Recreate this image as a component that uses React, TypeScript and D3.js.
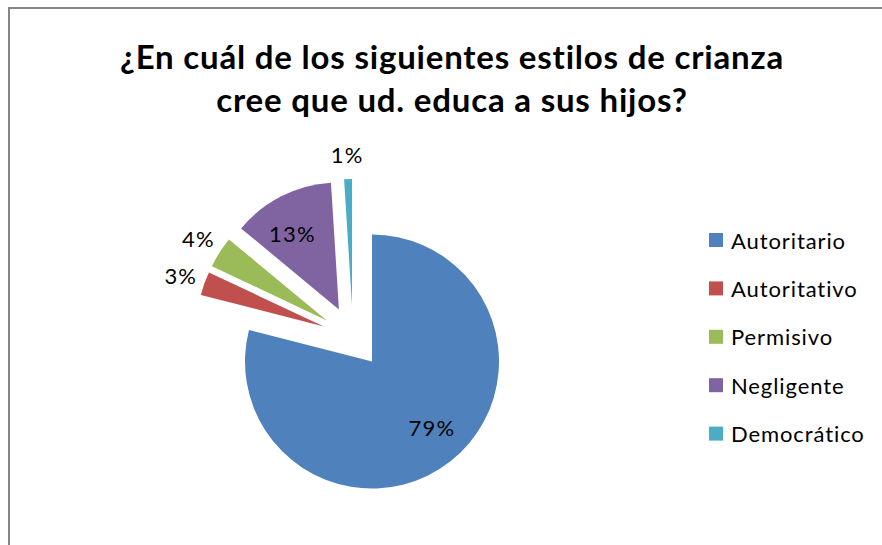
import React from "react";
import * as d3 from "d3";

const title = ["¿En cuál de los siguientes estilos de crianza", "cree que ud. educa a sus hijos?"];
const categories = ["Autoritario", "Autoritativo", "Permisivo", "Negligente", "Democrático"];
const values = [79, 3, 4, 13, 1];
const colors = ["#4F81BD", "#C0504D", "#9BBB59", "#8064A2", "#4BACC6"];
const labelInside = [true, false, false, true, false];

const W = 882;
const H = 545;
const FONT = "Lato, 'Liberation Sans', sans-serif";

export default function App() {
  const cx = 353;
  const cy = 337;
  const r = 127;
  const explode = 31;

  const pie = d3.pie<number>().sort(null).value((d) => d);
  const arcs = pie(values);
  const arcGen = d3.arc<d3.PieArcDatum<number>>().innerRadius(0).outerRadius(r);
  const total = d3.sum(values);

  return (
    <svg
      width={W}
      height={H}
      style={{ position: "absolute", left: 0, top: 0, display: "block", background: "#fff" }}
    >
      <rect x={9} y={8} width={1000} height={1000} fill="#fff" stroke="#868686" strokeWidth={2} />
      {title.map((t, i) => (
        <text
          key={i}
          x={452}
          y={69 + i * 43}
          textAnchor="middle"
          fontFamily={FONT}
          fontWeight="bold"
          fontSize={33}
          letterSpacing={0.8}
          fill="#000"
        >
          {t}
        </text>
      ))}
      {arcs.map((a, i) => {
        const mid = (a.startAngle + a.endAngle) / 2;
        const ox = cx + explode * Math.sin(mid);
        const oy = cy - explode * Math.cos(mid);
        // inside labels sit a little toward the slice start, as Excel's best fit does
        const la = labelInside[i] ? mid - 0.08 : mid;
        const lr = labelInside[i] ? r * 0.7 : r + 25;
        const lx = ox + lr * Math.sin(la);
        const ly = oy - lr * Math.cos(la);
        const pct = Math.round((values[i] / total) * 100) + "%";
        return (
          <g key={i}>
            <path d={arcGen(a) || ""} transform={`translate(${ox},${oy})`} fill={colors[i]} />
            <text
              x={lx}
              y={ly}
              textAnchor="middle"
              dominantBaseline="central"
              fontFamily={FONT}
              fontSize={22}
              letterSpacing={1.2}
              fill="#000"
            >
              {pct}
            </text>
          </g>
        );
      })}
      {categories.map((c, i) => {
        const y = 240 + i * 48.4;
        return (
          <g key={c}>
            <rect x={709} y={y - 7} width={14} height={14} fill={colors[i]} />
            <text
              x={731}
              y={y}
              dominantBaseline="central"
              fontFamily={FONT}
              fontSize={22}
              letterSpacing={0.9}
              fill="#000"
            >
              {c}
            </text>
          </g>
        );
      })}
    </svg>
  );
}
